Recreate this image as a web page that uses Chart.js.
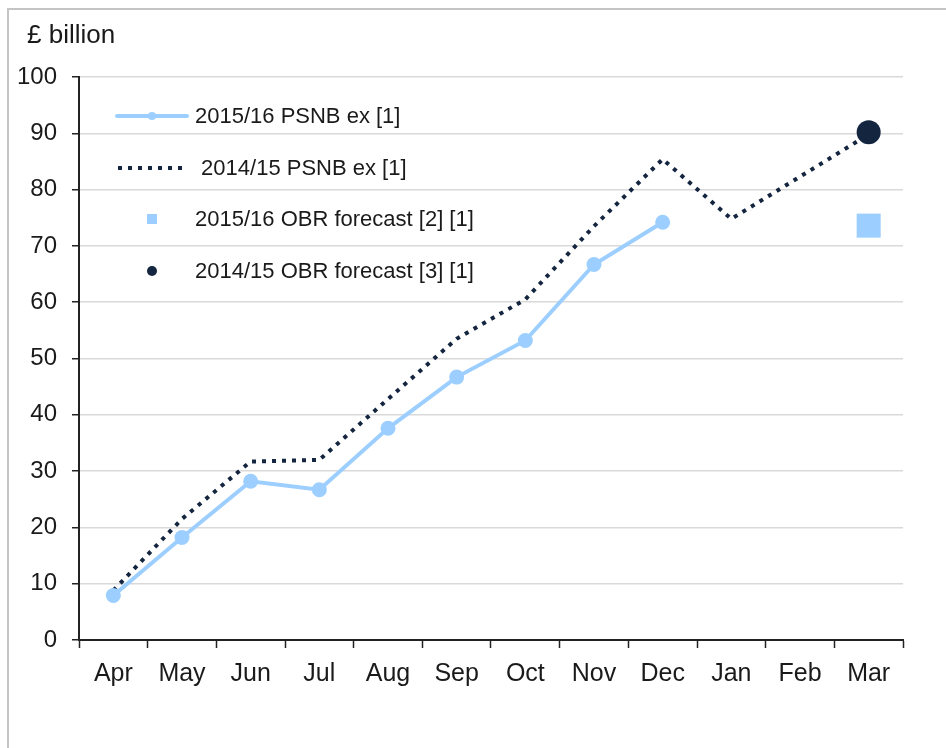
<!DOCTYPE html>
<html>
<head>
<meta charset="utf-8">
<script src="https://cdn.jsdelivr.net/npm/chart.js@4.4.1/dist/chart.umd.min.js"></script>
<style>
  html, body { margin: 0; padding: 0; background: #fff; }
  #wrap { position: relative; width: 946px; height: 748px; overflow: hidden; }
  #frame { position: absolute; left: 7px; top: 8px; width: 1000px; height: 1000px;
           border-top: 2px solid #c4c4c4; border-left: 2px solid #c4c4c4; box-sizing: border-box; }
  canvas { position: absolute; left: 0; top: 0; }
</style>
</head>
<body>
<div id="wrap">
  <div id="frame"></div>
  <canvas id="c" width="946" height="748"></canvas>
</div>
<script>
const months = ['Apr','May','Jun','Jul','Aug','Sep','Oct','Nov','Dec','Jan','Feb','Mar'];
const psnb1516 = [7.9, 18.2, 28.2, 26.7, 37.6, 46.7, 53.2, 66.7, 74.2, null, null, null];
const psnb1415 = [8.8, 21.5, 31.7, 32.0, 42.8, 53.5, 60.5, 73.5, 85.4, 74.8, 82.3, 89.8];
const obr1516 = [null, null, null, null, null, null, null, null, null, null, null, 73.6];
const obr1415 = [null, null, null, null, null, null, null, null, null, null, null, 90.2];
const legendLabels = ['2015/16 PSNB ex [1]', ' 2014/15 PSNB ex [1]', '2015/16 OBR forecast [2] [1]', '2014/15 OBR forecast [3] [1]'];
const yTitle = '£ billion';

const LIGHT = '#9ccfff';
const DARK = '#14253f';
const FONT = '"Liberation Sans", Arial, sans-serif';

const overlay = {
  id: 'overlay',
  afterDraw(chart) {
    const ctx = chart.ctx;
    const a = chart.chartArea;
    ctx.save();
    // axis title
    ctx.fillStyle = '#1a1a1a';
    ctx.font = '26px ' + FONT;
    ctx.textBaseline = 'middle';
    ctx.textAlign = 'left';
    ctx.fillText(yTitle, 27, 36);
    // legend
    const x0 = a.left + 38, rows = [a.top + 39, a.top + 91, a.top + 142, a.top + 194];
    ctx.font = '22px ' + FONT;
    // row 1
    ctx.strokeStyle = LIGHT; ctx.lineWidth = 4; ctx.lineCap = 'round';
    ctx.beginPath(); ctx.moveTo(x0, rows[0]); ctx.lineTo(x0 + 70, rows[0]); ctx.stroke();
    ctx.fillStyle = LIGHT; ctx.beginPath(); ctx.arc(x0 + 35, rows[0], 4, 0, Math.PI * 2); ctx.fill();
    // row 2
    ctx.strokeStyle = DARK; ctx.lineWidth = 4; ctx.lineCap = 'butt'; ctx.setLineDash([4, 6]);
    ctx.beginPath(); ctx.moveTo(x0 + 1, rows[1]); ctx.lineTo(x0 + 66, rows[1]); ctx.stroke();
    ctx.setLineDash([]);
    // row 3
    ctx.fillStyle = LIGHT; ctx.fillRect(x0 + 30, rows[2] - 5, 10, 10);
    // row 4
    ctx.fillStyle = DARK; ctx.beginPath(); ctx.arc(x0 + 35, rows[3], 5, 0, Math.PI * 2); ctx.fill();
    ctx.fillStyle = '#1a1a1a';
    legendLabels.forEach((t, i) => ctx.fillText(t, x0 + 78, rows[i] + 1));
    ctx.restore();
  }
};

new Chart(document.getElementById('c'), {
  type: 'line',
  data: {
    labels: months,
    datasets: [
      { label: 'obr1415', data: obr1415, showLine: false, pointStyle: 'circle', pointRadius: 12,
        backgroundColor: DARK, borderColor: DARK, pointBorderWidth: 0, order: 0 },
      { label: 'obr1516', data: obr1516, showLine: false, pointStyle: 'rect', pointRadius: 17,
        backgroundColor: LIGHT, borderColor: LIGHT, pointBorderWidth: 0, order: 1 },
      { label: 'psnb1516', data: psnb1516, borderColor: LIGHT, backgroundColor: LIGHT, borderWidth: 4,
        pointRadius: 7.5, pointBorderWidth: 0, tension: 0, order: 2 },
      { label: 'psnb1415', data: psnb1415, borderColor: DARK, backgroundColor: DARK, borderWidth: 4,
        borderDash: [4, 6], pointRadius: 0, tension: 0, order: 3 }
    ]
  },
  options: {
    responsive: false,
    animation: false,
    events: [],
    layout: { padding: { left: 0, right: 43, top: 77, bottom: 0 } },
    plugins: { legend: { display: false }, tooltip: { enabled: false }, title: { display: false } },
    scales: {
      x: {
        offset: true,
        grid: { offset: true, drawOnChartArea: false, drawTicks: true, tickLength: 8, tickColor: '#222', tickWidth: 1.5 },
        border: { color: '#222', width: 2 },
        ticks: { color: '#1a1a1a', font: { family: FONT, size: 25 }, padding: 11, maxRotation: 0, autoSkip: false },
        afterFit(s) { s.height = 108; }
      },
      y: {
        min: 0, max: 100,
        grid: { color: '#d9d9d9', lineWidth: 1.5, tickLength: 7, tickColor: '#222', tickWidth: 1.5 },
        border: { color: '#222', width: 2 },
        ticks: { stepSize: 10, color: '#1a1a1a', font: { family: FONT, size: 24 }, padding: 15 },
        afterFit(s) { s.width = 79; }
      }
    }
  },
  plugins: [overlay]
});
</script>
</body>
</html>
